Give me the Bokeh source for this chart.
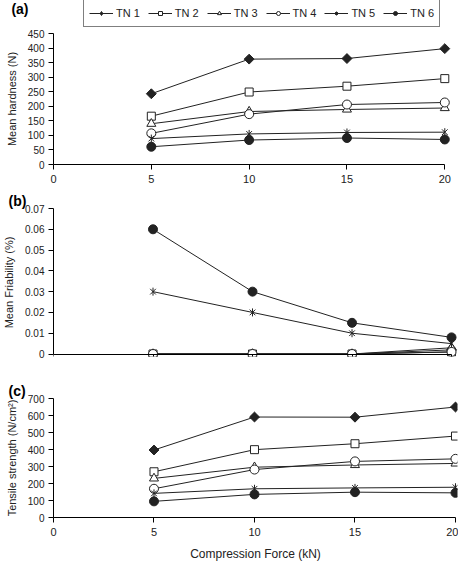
import math
from bokeh.plotting import figure
from bokeh.layouts import column
from bokeh.models import (Range1d, FixedTicker, Legend, LegendItem,
                          CustomJSTickFormatter)
from bokeh.embed import file_html
from bokeh.resources import INLINE

# ---------------- data ----------------
force = [5, 10, 15, 20]
x_ticks = [0, 5, 10, 15, 20]
series_names = ["TN 1", "TN 2", "TN 3", "TN 4", "TN 5", "TN 6"]

hardness_tn1 = [243, 362, 364, 398]
hardness_tn2 = [166, 249, 269, 295]
hardness_tn3 = [140, 182, 189, 194]
hardness_tn4 = [107, 173, 206, 213]
hardness_tn5 = [89, 105, 110, 111]
hardness_tn6 = [61, 84, 91, 86]
hardness_ticks = [0, 50, 100, 150, 200, 250, 300, 350, 400, 450]

friab_tn1 = [0, 0, 0, 0.002]
friab_tn2 = [0, 0, 0, 0.001]
friab_tn3 = [0, 0, 0, 0.003]
friab_tn4 = [0, 0, 0, 0.001]
friab_tn5 = [0.03, 0.02, 0.01, 0.005]
friab_tn6 = [0.06, 0.03, 0.015, 0.008]
friab_ticks = [0, 0.01, 0.02, 0.03, 0.04, 0.05, 0.06, 0.07]

tensile_tn1 = [397, 591, 590, 650]
tensile_tn2 = [269, 399, 434, 479]
tensile_tn3 = [230, 296, 309, 318]
tensile_tn4 = [169, 282, 330, 345]
tensile_tn5 = [142, 169, 174, 178]
tensile_tn6 = [95, 136, 149, 145]
tensile_ticks = [0, 100, 200, 300, 400, 500, 600, 700]

hardness = [hardness_tn1, hardness_tn2, hardness_tn3, hardness_tn4, hardness_tn5, hardness_tn6]
friab = [friab_tn1, friab_tn2, friab_tn3, friab_tn4, friab_tn5, friab_tn6]
tensile = [tensile_tn1, tensile_tn2, tensile_tn3, tensile_tn4, tensile_tn5, tensile_tn6]

# ---------------- styles ----------------
FONT = "Liberation Sans"
LINE = "#222222"
marker_styles = [
    [dict(marker="square", size=7, angle=math.pi / 4, fill_color=LINE)],
    [dict(marker="square", size=8, fill_color="white")],
    [dict(marker="triangle", size=9, fill_color="white")],
    [dict(marker="circle", size=9, fill_color="white")],
    [dict(marker="x", size=8, fill_color=None), dict(marker="dash", size=8, angle=math.pi / 2, fill_color=None)],
    [dict(marker="circle", size=9, fill_color=LINE)],
]
legend_markers = [
    [dict(marker="diamond", fill_color=LINE)],
    [dict(marker="square", fill_color="white")],
    [dict(marker="triangle", fill_color="white")],
    [dict(marker="circle", fill_color="white")],
    [dict(marker="asterisk", fill_color=None)],
    [dict(marker="circle", fill_color=LINE)],
]

LEFT, RIGHT, WIDTH = 45, 1, 458


def make_fig(height, top, bottom, x_end, y0, y1, yticks):
    p = figure(width=WIDTH, height=height,
               min_border_left=LEFT, min_border_right=RIGHT,
               min_border_top=top, min_border_bottom=bottom,
               x_range=Range1d(0, x_end), y_range=Range1d(y0, y1),
               output_backend="svg", toolbar_location=None, tools="")
    p.outline_line_color = None
    p.grid.visible = False
    p.background_fill_color = "white"
    p.border_fill_color = "white"
    for ax in (p.xaxis[0], p.yaxis[0]):
        ax.axis_line_color = "black"
        ax.axis_line_width = 1
        ax.major_tick_line_color = "black"
        ax.major_tick_out = 5
        ax.major_tick_in = 0
        ax.minor_tick_line_color = None
        ax.major_label_text_font = FONT
        ax.major_label_text_color = "#222222"
        ax.axis_label_text_font = FONT
        ax.axis_label_text_font_style = "normal"
        ax.axis_label_text_color = "#222222"
    p.xaxis.ticker = FixedTicker(ticks=x_ticks)
    p.xaxis.bounds = (0, 20)
    p.xaxis.major_label_text_font_size = "11px"
    p.xaxis.major_label_standoff = 5
    p.yaxis.ticker = FixedTicker(ticks=yticks)
    p.yaxis.bounds = (yticks[0], yticks[-1])
    p.yaxis.major_label_text_font_size = "10px"
    p.yaxis.major_label_standoff = 4
    p.yaxis.axis_label_text_font_size = "11px"
    p.yaxis.axis_label_standoff = 7
    return p


def draw_series(p, data, styles_list, xs):
    rends = []
    for ys, styles in zip(data, styles_list):
        r = [p.line(xs, ys, line_color=LINE, line_width=1)]
        for st in styles:
            r.append(p.scatter(xs, ys, line_color=LINE, line_width=1, **st))
        rends.append(r)
    return rends


def panel_title(p, text, standoff):
    p.title.text = text
    p.title.align = "left"
    p.title.offset = -LEFT
    p.title.standoff = standoff
    p.title.text_font = FONT
    p.title.text_font_size = "14px"
    p.title.text_font_style = "bold"
    p.title.text_color = "black"


# ---------------- top band: "(a)" + legend ----------------
BAND_H = 27
A_POS = BAND_H - 8
band = figure(width=WIDTH, height=BAND_H, min_border_left=LEFT, min_border_right=RIGHT,
              min_border_top=0, min_border_bottom=0,
              x_range=Range1d(0, 1), y_range=Range1d(0, BAND_H),
              x_axis_location=None, y_axis_location="left",
              output_backend="svg", toolbar_location=None, tools="")
band.outline_line_color = None
band.grid.visible = False
ya = band.yaxis[0]
ya.ticker = FixedTicker(ticks=[A_POS])
ya.major_label_overrides = {A_POS: "(a)"}
ya.axis_line_color = None
ya.major_tick_line_color = None
ya.minor_tick_line_color = None
ya.major_tick_out = 0
ya.major_label_standoff = 25
ya.major_label_text_font = FONT
ya.major_label_text_font_size = "14px"
ya.major_label_text_font_style = "bold"
ya.major_label_text_color = "black"

nan = float("nan")
proxy = draw_series(band, [[nan]] * 6, legend_markers, xs=[nan])
legend = Legend(items=[LegendItem(label=n, renderers=r) for n, r in zip(series_names, proxy)],
                orientation="horizontal", location=(75 - LEFT, 0),
                glyph_width=24, glyph_height=10, label_height=17,
                label_standoff=3, spacing=8, padding=5, margin=0,
                border_line_color="black", border_line_width=1,
                label_text_font=FONT, label_text_font_size="11px",
                label_text_color="#222222", background_fill_color="white")
band.add_layout(legend)

# ---------------- (a) ----------------
pa = make_fig(158, 6, 18, 20.65, 0, 450, hardness_ticks)
pa.yaxis.axis_label = "Mean hardness (N)"
draw_series(pa, hardness, marker_styles, force)

# ---------------- (b) ----------------
pb = make_fig(195, 23, 24, 20.3, -0.0012, 0.07, friab_ticks)
pb.yaxis.axis_label = "Mean Friability (%)"
pb.yaxis.formatter = CustomJSTickFormatter(code="return tick == 0 ? '0' : tick.toFixed(2);")
pb.xaxis.fixed_location = 0
draw_series(pb, friab, marker_styles, force)
panel_title(pb, "(b)", 0)

# ---------------- (c) ----------------
pc = make_fig(183, 17, 40, 20.1, 0, 700, tensile_ticks)
pc.yaxis.axis_label = "Tensile strength (N/cm²)"
pc.xaxis.axis_label = "Compression Force (kN)"
pc.xaxis.axis_label_text_font_size = "12px"
pc.xaxis.axis_label_standoff = 8
draw_series(pc, tensile, marker_styles, force)
panel_title(pc, "(c)", 0)

layout = column(band, pa, pb, pc, spacing=0)
open("out.html", "w").write(file_html(layout, INLINE))
